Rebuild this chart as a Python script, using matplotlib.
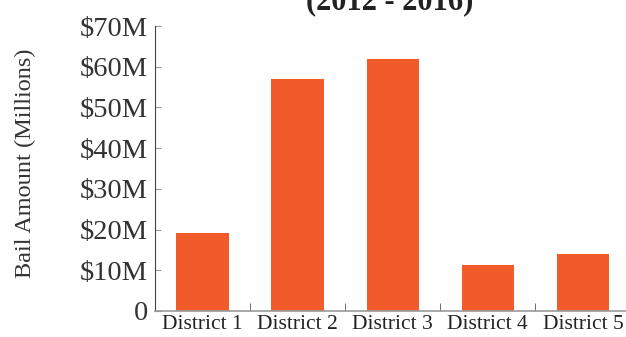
import matplotlib
matplotlib.use("Agg")
import matplotlib.pyplot as plt
import numpy as np

districts = ["District 1", "District 2", "District 3", "District 4", "District 5"]
bail_millions = [19.1, 57.1, 61.8, 11.3, 14.0]
ytick_values = [0, 10, 20, 30, 40, 50, 60, 70]
ytick_labels = ["0", "$10M", "$20M", "$30M", "$40M", "$50M", "$60M", "$70M"]

plt.rcParams['font.family'] = ['Liberation Serif', 'DejaVu Serif']

fig = plt.figure(figsize=(6.26, 3.37), dpi=100)
ax = fig.add_axes([155/626, 26/337, (630.5-155)/626, (311-26)/337])

x = np.arange(len(districts))
ax.bar(x, bail_millions, width=0.55, color='#f15a29')

ax.set_xlim(-0.5, len(districts) - 0.5)
ax.set_ylim(0, 70)
ax.set_yticks(ytick_values)
ax.set_yticklabels(ytick_labels, fontsize=20.5, color='#333333')
ax.set_xticks(x)
ax.set_xticklabels(districts, fontsize=15.5, color='#222222')
ax.tick_params(axis='x', length=0, pad=3)
ax.set_xticks(x[:-1] + 0.5, minor=True)
ax.tick_params(axis='x', which='minor', direction='in', length=6, color='#555555')
ax.tick_params(axis='y', direction='in', length=4, color='#999999', pad=5)

for s in ['top', 'right']:
    ax.spines[s].set_visible(False)
ax.spines['left'].set_color('#444444')
ax.spines['bottom'].set_color('#999999')
ax.spines['bottom'].set_linewidth(1.2)

ax.set_ylabel("Bail Amount (Millions)", fontsize=17.5, color='#333333', va='center')
ax.yaxis.set_label_coords(-0.273, 0.52)
fig.text(390/626, 1 - 16/337, "Total Bail Amount by District\n(2012 - 2016)",
         fontsize=22, fontweight='bold', color='#222222', ha='center', va='bottom',
         multialignment='center')

fig.savefig("out.png", dpi=100)
